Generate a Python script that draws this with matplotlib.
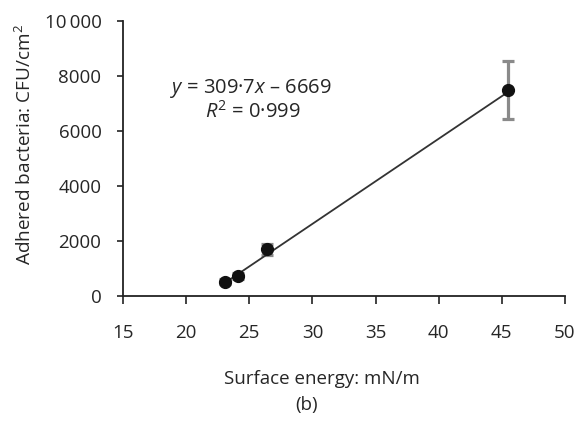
import numpy as np
import matplotlib
matplotlib.use("Agg")
import matplotlib.pyplot as plt

# data
energy = [23.1, 24.1, 26.4, 45.5]          # mN/m
bacteria = [520, 740, 1700, 7490]          # CFU/cm2
bacteria_err = [90, 110, 200, 1040]
slope, intercept = 309.7, -6669

x_ticks = [15, 20, 25, 30, 35, 40, 45, 50]
y_ticks = [0, 2000, 4000, 6000, 8000, 10000]
y_tick_labels = ["0", "2000", "4000", "6000", "8000", "10\u2009000"]

plt.rcParams['font.family'] = ['Open Sans', 'DejaVu Sans']
plt.rcParams['mathtext.fontset'] = 'custom'
plt.rcParams['mathtext.rm'] = 'Open Sans'
plt.rcParams['mathtext.it'] = 'Open Sans:italic'

txt = "#262626"

fig = plt.figure(figsize=(5.79, 4.21), dpi=100)
ax = fig.add_axes([0.2124, 0.297, 0.7634, 0.653])

# fitted line
xf = np.array([energy[0], energy[-1]])
ax.plot(xf, slope * xf + intercept, color="#333333", lw=1.3, zorder=2)

# points with error bars
ax.errorbar(energy, bacteria, yerr=bacteria_err, fmt="none", ecolor="#8a8a8a",
            elinewidth=2.3, capsize=4.3, capthick=2.3, zorder=1)
ax.plot(energy, bacteria, "o", color="#111111", ms=8.5, zorder=3)

ax.set_xlim(15, 50)
ax.set_ylim(0, 10000)
ax.set_xticks(x_ticks)
ax.set_yticks(y_ticks)
ax.set_yticklabels(y_tick_labels)
for s in ["top", "right"]:
    ax.spines[s].set_visible(False)
for s in ["left", "bottom"]:
    ax.spines[s].set_linewidth(1.3)
    ax.spines[s].set_color("#222222")
ax.tick_params(axis="y", direction="out", length=4.5, width=1.2, pad=11,
               labelsize=13.5, colors=txt)
ax.tick_params(axis="x", direction="out", length=5.5, width=1.2, pad=15,
               labelsize=13.5, colors=txt)
for lab in ax.get_xticklabels() + ax.get_yticklabels():
    lab.set_color(txt)
ax.tick_params(colors="#222222", labelcolor=txt)

ax.text(0.29, 0.756, r"$\mathit{y}$ = 309·7$\mathit{x}$ – 6669", transform=ax.transAxes,
        ha="center", va="center", fontsize=14.5, color=txt)
ax.text(0.294, 0.669, r"$\mathit{R}^2$ = 0·999", transform=ax.transAxes,
        ha="center", va="center", fontsize=14.5, color=txt)

fig.text(0.043, 0.658, "Adhered bacteria: CFU/cm$^2$", rotation=90, ha="center",
         va="center", fontsize=13.7, color=txt)
fig.text(0.556, 0.0998, "Surface energy: mN/m", ha="center", va="center",
         fontsize=13.5, color=txt)
fig.text(0.530, 0.038, "(b)", ha="center", va="center", fontsize=13.5,
         color=txt)

fig.savefig("out.png", dpi=100)
